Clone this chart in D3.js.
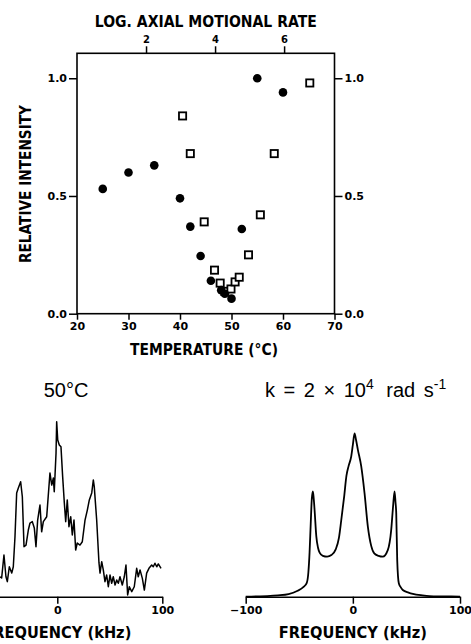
<!DOCTYPE html>
<html>
<head>
<meta charset="utf-8">
<script src="https://cdn.jsdelivr.net/npm/d3@7"></script>
<style>
body{margin:0;background:#fff;}
svg{display:block;}
text{font-family:"DejaVu Sans",sans-serif;fill:#000;}
text.title{font-family:"Liberation Sans",Arial,sans-serif;}
</style>
</head>
<body>
<svg width="471" height="644"></svg>
<script>
// top panel : relative intensity against temperature
const circleTemp = [25, 30, 35, 40, 42, 44, 46, 48, 48.7, 50, 52, 55, 60];
const circleInt  = [0.53, 0.60, 0.63, 0.49, 0.37, 0.245, 0.14, 0.10, 0.085, 0.064, 0.36, 1.0, 0.94];
const squareTemp = [40.5, 42, 44.7, 46.7, 47.8, 48.7, 49.9, 50.7, 51.5, 53.3, 55.6, 58.3, 65.2];
const squareInt  = [0.84, 0.68, 0.39, 0.185, 0.13, 0.095, 0.105, 0.135, 0.155, 0.25, 0.42, 0.68, 0.98];
const tempTicks = [20, 30, 40, 50, 60, 70];
const rateTicks = [2, 4, 6];
const intTicks = [0, 0.5, 1.0];

// bottom left : experimental spectrum at 50 C
const expFreq = [-54.6,-53,-50.8,-48.9,-47.6,-45.7,-43.4,-41.9,-40.3,-38.7,-37.1,-34.9,-33.3,-31.7,-29.8,-27.6,-26,-23.8,-21.9,-20.3,-18.7,-16.5,-14.9,-13.3,-10.1,-7,-5.3,-3.8,-2.9,-1.2,-0.6,0.4,1.9,3.5,5.1,6.7,8,9.5,11.1,12.8,14.3,15.9,17.5,19,21.6,23.8,26.4,28.6,30.5,32.8,34.3,35.2,37.5,39.7,40.7,42.3,43.8,45.4,47,48.6,50.2,51.8,53.3,55,56.6,58.1,59.7,61.9,63.8,65.4,67,68.6,70.9,73.3,75.6,77.1,78.8,81,82.9,85.1,87.3,89.9,91.4,93,94.7,96.2,98.8];
const expInt  = [0.114,0.107,0.238,0.114,0.086,0.171,0.135,0.171,0.343,0.593,0.621,0.657,0.571,0.286,0.295,0.381,0.421,0.429,0.393,0.286,0.438,0.524,0.371,0.429,0.457,0.707,0.638,0.678,0.6,0.821,1.0,0.895,0.867,0.857,0.686,0.535,0.429,0.553,0.4,0.457,0.353,0.438,0.267,0.307,0.295,0.314,0.438,0.495,0.553,0.593,0.667,0.629,0.438,0.193,0.135,0.2,0.153,0.086,0.124,0.057,0.124,0.077,0.114,0.067,0.095,0.077,0.114,0.067,0.114,0.181,0.01,0.057,0.029,0.057,0.162,0.114,0.153,0.105,0.038,0.135,0.162,0.181,0.171,0.191,0.171,0.187,0.162];
const expTicks = [0, 100];

// bottom right : simulated spectrum, k = 2e4 rad/s
const simFreq = [-100,-90,-80,-70,-60,-52,-46,-43,-41.5,-40.4,-39.3,-38.3,-37.3,-36.5,-35.7,-34.1,-32.5,-31,-28,-24,-20,-16,-13,-10.8,-8,-6,-4,-1.5,0,1.6,3,4.7,7.8,10.9,14,17.2,20,24,28,32.6,35.8,37.5,38.9,39.8,40.5,41.4,42.9,44.5,46.6,52,56,65,71.5,85,100];
const simInt  = [0,0.002,0.004,0.008,0.016,0.035,0.06,0.085,0.15,0.27,0.45,0.6,0.645,0.6,0.53,0.37,0.3,0.27,0.25,0.245,0.255,0.29,0.36,0.47,0.62,0.74,0.8,0.86,0.93,1.0,0.96,0.9,0.8,0.635,0.43,0.31,0.265,0.25,0.245,0.285,0.41,0.55,0.645,0.58,0.51,0.225,0.082,0.06,0.041,0.025,0.017,0.008,0.004,0.002,0];
const simTicks = [-100, 0, 100];

const svg = d3.select('svg');

// ---------- top panel ----------
const x = d3.scaleLinear().domain([20, 70]).range([77, 334.5]);
const xRate = d3.scaleLinear().domain([0, 7.46]).range([77, 334.5]);
const y = d3.scaleLinear().domain([0, 1.106]).range([313.7, 53.3]);

const topG = svg.append('g');

topG.append('rect')
    .attr('x', x(20)).attr('y', y(1.106))
    .attr('width', x(70) - x(20)).attr('height', y(0) - y(1.106))
    .attr('fill', 'none').attr('stroke', '#000').attr('stroke-width', 1.6);

function styleAxis(g, size){
    g.select('.domain').remove();
    g.selectAll('line').attr('stroke', '#000').attr('stroke-width', 1.5);
    g.selectAll('text').attr('font-weight', 'bold').attr('font-size', size);
}

topG.append('g')
    .attr('transform', `translate(0,${y(0)})`)
    .call(d3.axisBottom(x).tickValues(tempTicks).tickSize(6).tickPadding(3).tickFormat(d3.format('d')))
    .call(g => styleAxis(g, 11));

topG.append('g')
    .attr('transform', `translate(0,${y(1.106)})`)
    .call(d3.axisTop(xRate).tickValues(rateTicks).tickSize(7).tickPadding(3).tickFormat(d3.format('d')))
    .call(g => styleAxis(g, 10));

topG.append('g')
    .attr('transform', `translate(${x(20)},0)`)
    .call(d3.axisLeft(y).tickValues(intTicks).tickSize(8).tickPadding(2).tickFormat(d3.format('.1f')))
    .call(g => styleAxis(g, 11));

topG.append('g')
    .attr('transform', `translate(${x(70)},0)`)
    .call(d3.axisRight(y).tickValues(intTicks).tickSize(8).tickPadding(2).tickFormat(d3.format('.1f')))
    .call(g => styleAxis(g, 11));

// open squares
topG.selectAll('rect.sq')
    .data(squareTemp.map((t, i) => [t, squareInt[i]]))
    .enter()
    .append('rect')
    .attr('class', 'sq')
    .attr('x', d => x(d[0]) - 3.6)
    .attr('y', d => y(d[1]) - 3.6)
    .attr('width', 7.2).attr('height', 7.2)
    .attr('fill', '#fff').attr('stroke', '#000').attr('stroke-width', 1.8);

// filled circles
topG.selectAll('circle')
    .data(circleTemp.map((t, i) => [t, circleInt[i]]))
    .enter()
    .append('circle')
    .attr('cx', d => x(d[0]))
    .attr('cy', d => y(d[1]))
    .attr('r', 4.3)
    .attr('fill', '#000');

topG.append('text')
    .attr('x', 205.8).attr('y', 26.5)
    .attr('text-anchor', 'middle')
    .attr('font-weight', 'bold').attr('font-size', 15)
    .attr('textLength', 222).attr('lengthAdjust', 'spacingAndGlyphs')
    .text('LOG. AXIAL MOTIONAL RATE');

topG.append('text')
    .attr('transform', 'translate(30.5,184) rotate(-90)')
    .attr('text-anchor', 'middle')
    .attr('font-weight', 'bold').attr('font-size', 15)
    .attr('textLength', 158).attr('lengthAdjust', 'spacingAndGlyphs')
    .text('RELATIVE INTENSITY');

topG.append('text')
    .attr('x', 204).attr('y', 355)
    .attr('text-anchor', 'middle')
    .attr('font-weight', 'bold').attr('font-size', 15)
    .attr('textLength', 148).attr('lengthAdjust', 'spacingAndGlyphs')
    .text('TEMPERATURE (°C)');

// ---------- bottom spectra ----------
const baseY = 596.7;
const sy = d3.scaleLinear().domain([0, 1]).range([baseY, 421.7]);
const sy2 = d3.scaleLinear().domain([0, 1]).range([baseY, 433.5]);
const fxL = d3.scaleLinear().domain([-100, 100]).range([-47.7, 162.3]);
const fxR = d3.scaleLinear().domain([-100, 100]).range([245.7, 460]);

function freqAxis(scale, ticks){
    const g = svg.append('g')
        .attr('transform', `translate(0,${baseY})`)
        .call(d3.axisBottom(scale).tickValues(ticks).tickSize(7).tickSizeOuter(0).tickPadding(3)
            .tickFormat(d => d < 0 ? '\u2212' + Math.abs(d) : d));
    g.select('.domain').attr('stroke', '#000').attr('stroke-width', 1.6);
    g.selectAll('line').attr('stroke', '#000').attr('stroke-width', 1.5);
    g.selectAll('text').attr('font-weight', 'bold').attr('font-size', 11);
    svg.append('text')
        .attr('x', scale(0)).attr('y', 638)
        .attr('text-anchor', 'middle')
        .attr('font-weight', 'bold').attr('font-size', 15)
        .attr('textLength', 148).attr('lengthAdjust', 'spacingAndGlyphs')
        .text('FREQUENCY (kHz)');
}
freqAxis(fxL, expTicks);
freqAxis(fxR, simTicks);

const lineL = d3.line()
    .x((d, i) => fxL(expFreq[i]))
    .y(d => sy(d));
svg.append('path')
    .attr('d', lineL(expInt))
    .attr('fill', 'none').attr('stroke', '#000').attr('stroke-width', 1.5)
    .attr('stroke-linejoin', 'round');

const lineR = d3.line()
    .x((d, i) => fxR(simFreq[i]))
    .y(d => sy2(d))
    .curve(d3.curveMonotoneX);
svg.append('path')
    .attr('d', lineR(simInt))
    .attr('fill', 'none').attr('stroke', '#000').attr('stroke-width', 1.8);

// panel titles
svg.append('text')
    .attr('class', 'title')
    .attr('x', 66).attr('y', 397)
    .attr('text-anchor', 'middle')
    .attr('font-size', 20)
    .text('50°C');

const kt = svg.append('text')
    .attr('class', 'title')
    .attr('x', 265).attr('y', 397)
    .attr('font-size', 20)
    .style('white-space', 'pre')
    .style('word-spacing', '3px');
kt.append('tspan').text('k = 2 \u00d7 10');
kt.append('tspan').attr('dy', -8).attr('font-size', 14).text('4');
kt.append('tspan').attr('dy', 8).attr('dx', 4).text(' rad s');
kt.append('tspan').attr('dy', -8).attr('font-size', 14).text('-1');
</script>
</body>
</html>
